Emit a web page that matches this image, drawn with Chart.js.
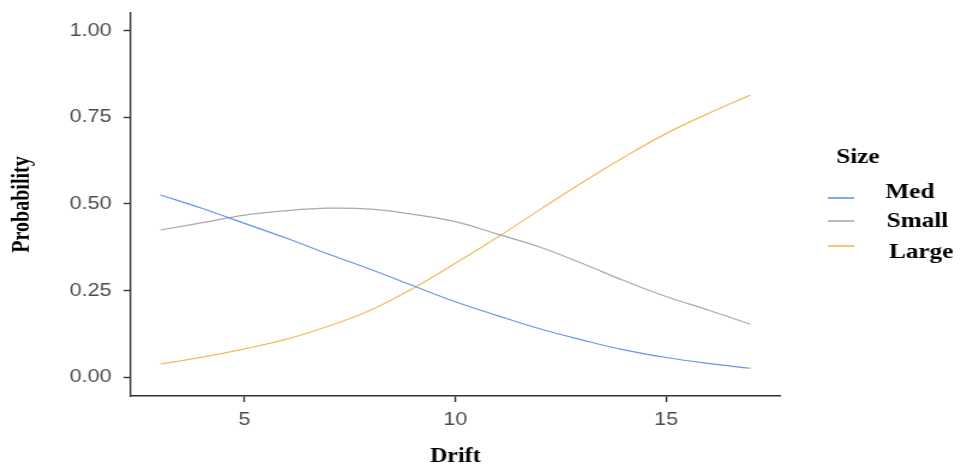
<!DOCTYPE html>
<html>
<head>
<meta charset="utf-8">
<script src="https://cdn.jsdelivr.net/npm/chart.js@4/dist/chart.umd.min.js"></script>
<style>
  html, body { margin: 0; padding: 0; background: #fff; overflow: hidden; }
  /* the reference is stretched sideways ~1.2x, so draw narrow and widen */
  #wrap { width: 801px; height: 469px; transform: scaleX(1.19975); transform-origin: 0 0; }
</style>
</head>
<body>
<div id="wrap"><canvas id="chart" width="801" height="469" style="width:801px;height:469px"></canvas></div>
<script>
// ---------------------------------------------------------------------------
// Data
// ---------------------------------------------------------------------------
const drift = [3, 4, 5, 6, 7, 8, 9, 10, 11, 12, 13, 14, 15, 16, 17];

const med   = [0.526, 0.487, 0.444, 0.401, 0.355, 0.311, 0.264, 0.218, 0.178, 0.140, 0.108, 0.079, 0.057, 0.040, 0.026];
const small = [0.425, 0.446, 0.468, 0.481, 0.488, 0.485, 0.470, 0.449, 0.413, 0.376, 0.329, 0.279, 0.233, 0.194, 0.153];
const large = [0.038, 0.058, 0.082, 0.110, 0.148, 0.194, 0.257, 0.329, 0.404, 0.483, 0.561, 0.635, 0.703, 0.761, 0.814];

const seriesNames  = ['Med', 'Small', 'Large'];
const seriesColors = ['#6495ED', '#A9A9A9', '#F4B95A'];

const xTicks = [5, 10, 15];
const yTicks = [0, 0.25, 0.5, 0.75, 1];

const xTitle = 'Drift';
const yTitle = 'Probability';
const legendTitle = 'Size';

// ---------------------------------------------------------------------------
// Legend drawn by hand (ggplot style: title, short line keys, labels)
// ---------------------------------------------------------------------------
const sizeLegend = {
  id: 'sizeLegend',
  afterDraw(chart) {
    const ctx = chart.ctx;
    const keyY   = [198, 221, 246];
    const labelX = [738, 739, 741];
    const labelY = [198, 227, 258];
    ctx.save();
    ctx.fillStyle = '#000';
    ctx.textBaseline = 'alphabetic';
    ctx.font = 'bold 21px "Liberation Serif", serif';
    ctx.fillText(legendTitle, 697, 163);
    chart.data.datasets.forEach((ds, i) => {
      ctx.strokeStyle = ds.borderColor;
      ctx.lineWidth = 1.6;
      ctx.beginPath();
      ctx.moveTo(690, keyY[i]);
      ctx.lineTo(712, keyY[i]);
      ctx.stroke();
      ctx.fillText(ds.label, labelX[i], labelY[i]);
    });
    ctx.restore();
  }
};

// ---------------------------------------------------------------------------
// Chart
// ---------------------------------------------------------------------------
const lineData = [med, small, large];

const datasets = seriesNames.map((name, i) => ({
  label: name,
  data: drift.map((x, j) => ({ x: x, y: lineData[i][j] })),
  borderColor: seriesColors[i],
  backgroundColor: seriesColors[i],
  borderWidth: 1.2,
  pointRadius: 0,
  fill: false,
  tension: 0.4,
}));

const tickFont  = { family: '"Liberation Sans", Arial, sans-serif', size: 18 };
const titleFont = { family: '"Liberation Serif", "Times New Roman", serif', size: 20, weight: 'bold' };

new Chart(document.getElementById('chart'), {
  type: 'line',
  data: { datasets },
  options: {
    responsive: false,
    animation: false,
    layout: { padding: { left: 0, right: 151, top: 13, bottom: 0 } },
    plugins: {
      legend: { display: false },
      tooltip: { enabled: false },
    },
    scales: {
      x: {
        type: 'linear',
        min: 2.3,
        max: 17.7,
        afterBuildTicks: (scale) => { scale.ticks = xTicks.map(v => ({ value: v })); },
        afterFit: (scale) => {
          scale.height = 73;
          scale.paddingLeft = 0;
          scale.paddingRight = 0;
        },
        grid: { drawOnChartArea: false, drawTicks: true, tickLength: 6, tickColor: '#333', tickWidth: 1.4 },
        border: { display: true, color: '#333', width: 1.4 },
        ticks: { color: '#4d4d4d', font: tickFont, padding: 7, maxRotation: 0, callback: (v) => String(v) },
        title: { display: true, text: xTitle, color: '#000', font: titleFont, padding: { top: 0, bottom: 0 } },
      },
      y: {
        min: -0.054,
        max: 1.051,
        afterBuildTicks: (scale) => { scale.ticks = yTicks.map(v => ({ value: v })); },
        afterFit: (scale) => {
          scale.width = 109;
          scale.paddingTop = 0;
          scale.paddingBottom = 0;
        },
        grid: { drawOnChartArea: false, drawTicks: true, tickLength: 6, tickColor: '#333', tickWidth: 1.4 },
        border: { display: true, color: '#333', width: 1.4 },
        ticks: { color: '#4d4d4d', font: tickFont, padding: 10, callback: (v) => v.toFixed(2) },
        title: { display: true, text: yTitle, color: '#000', font: titleFont, padding: { top: 7, bottom: 0 } },
      },
    },
  },
  plugins: [sizeLegend],
});
</script>
</body>
</html>
